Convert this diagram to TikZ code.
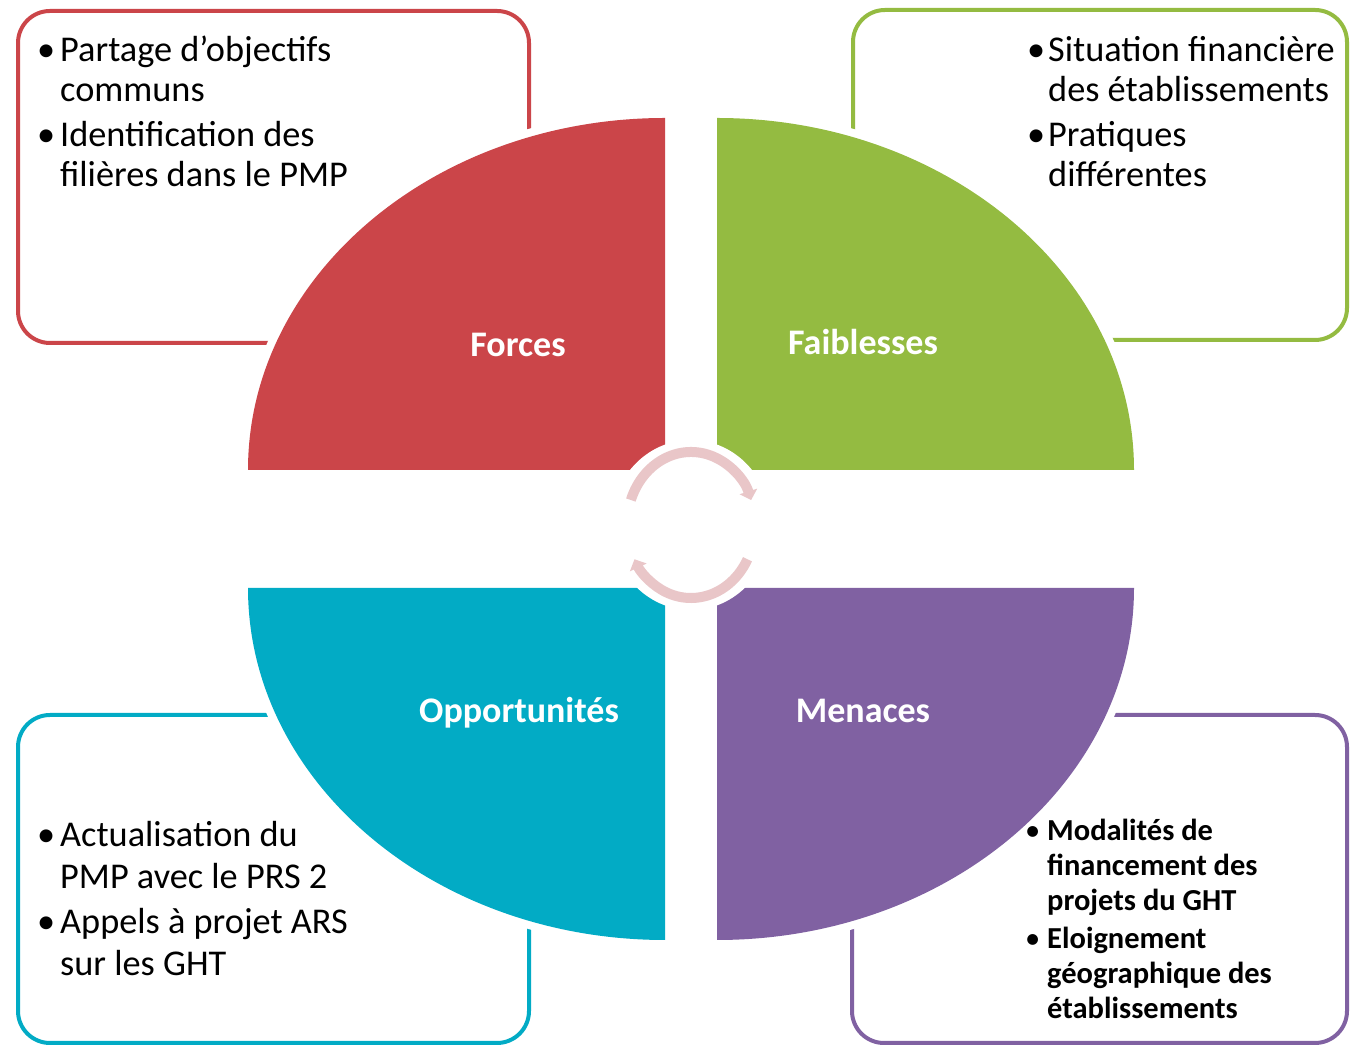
\documentclass[tikz,border=0pt]{standalone}
\usepackage{fontspec}
\setmainfont{Carlito}
\usetikzlibrary{arrows.meta}

\definecolor{rougeF}{HTML}{CB4549}
\definecolor{vertF}{HTML}{94BB41}
\definecolor{bleuO}{HTML}{02ABC5}
\definecolor{violetM}{HTML}{8061A2}
\definecolor{roseC}{HTML}{E9C6C8}

% puce de liste
\newcommand{\puce}[1][23pt]{\makebox[#1][l]{\mdseries\textbullet}}

\tikzset{
  cadre/.style={line width=4pt, rounded corners=32pt},
  quartier/.style={preaction={draw=white, line width=16pt}},
  titre/.style={text=white, anchor=base, inner sep=0pt, font=\fontsize{36}{40}\selectfont\bfseries},
  liste/.style={anchor=base west, inner sep=0pt},
  anneau/.style={draw=roseC, line width=10pt},
}

\begin{document}
\begin{tikzpicture}[x=1pt, y=1pt]
    \useasboundingbox (0,0) rectangle (1350,1046);

    % Cadres des textes
    \draw[cadre, rougeF] (18,703) rectangle (529,1035);
    \draw[cadre, vertF] (853,706) rectangle (1347,1036);
    \draw[cadre, bleuO] (18,3) rectangle (529,331);
    \draw[cadre, violetM] (852,3) rectangle (1347,331);

    % Quartiers
    \fill[quartier, rougeF] (665,576) -- (248,576) arc[start angle=180, end angle=90, x radius=417, y radius=352] -- cycle;
    \fill[quartier, vertF] (717,576) -- (717,928) arc[start angle=90, end angle=0, x radius=417, y radius=352] -- cycle;
    \fill[quartier, bleuO] (665,458) -- (248,458) arc[start angle=180, end angle=270, x radius=417, y radius=352] -- cycle;
    \fill[quartier, violetM] (717,458) -- (1134,458) arc[start angle=0, end angle=-90, x radius=417, y radius=352] -- cycle;

    % Cycle central
    \coordinate (centre) at (691,521);
    \fill[white] (centre) ellipse[x radius=80, y radius=85];
    \draw[anneau, -{Triangle[length=9pt, width=18pt]}] ([shift={(160:64 and 73)}]centre) arc[start angle=160, end angle=20, x radius=64, y radius=73];
    \draw[anneau, -{Triangle[length=9pt, width=18pt]}] ([shift={(-28:64 and 73)}]centre) arc[start angle=-28, end angle=-152, x radius=64, y radius=73];

    % Titres
    \node[titre] (forces) at (518,689) {Forces};
    \node[titre] (faiblesses) at (863,691) {Faiblesses};
    \node[titre] (opportunites) at (519,323) {Opportunités};
    \node[titre] (menaces) at (863,323) {Menaces};

    % Listes
    \node[liste, font=\fontsize{36.3}{40}\selectfont] (txtforces) at (37,984)
      {\begin{tabular}[t]{@{}l@{}l@{}}\puce & Partage d’objectifs\\ & communs\\[5pt]
       \puce & Identification des\\ & filières dans le PMP\end{tabular}};
    \node[liste, font=\fontsize{36.3}{40}\selectfont] (txtfaiblesses) at (1027,984)
      {\begin{tabular}[t]{@{}l@{}l@{}}\puce[21pt] & Situation financière\\ & des établissements\\[5pt]
       \puce[21pt] & Pratiques\\ & différentes\end{tabular}};
    \node[liste, font=\fontsize{36.3}{42}\selectfont] (txtopportunites) at (37,199)
      {\begin{tabular}[t]{@{}l@{}l@{}}\puce & Actualisation du\\ & PMP avec le PRS 2\\[3pt]
       \puce & Appels à projet ARS\\ & sur les GHT\end{tabular}};
    \node[liste, font=\fontsize{30.5}{35}\selectfont\bfseries] (txtmenaces) at (1025,205)
      {\begin{tabular}[t]{@{}l@{}l@{}}\puce[22pt] & Modalités de\\ & financement des\\ & projets du GHT\\[3pt]
       \puce[22pt] & Eloignement\\ & géographique des\\ & établissements\end{tabular}};
\end{tikzpicture}
\end{document}
